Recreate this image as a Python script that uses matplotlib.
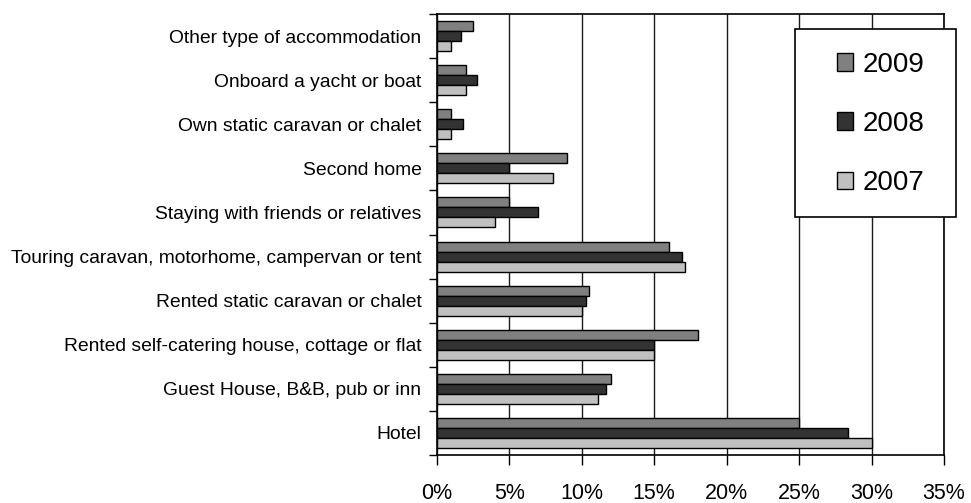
import matplotlib

matplotlib.use("Agg")

import matplotlib.pyplot as plt
import numpy as np
from matplotlib.patches import Patch, Rectangle
from matplotlib.ticker import FixedLocator, PercentFormatter

plt.rcParams["font.family"] = ["Liberation Sans", "DejaVu Sans"]

# categories listed top to bottom as shown
categories = [
    "Other type of accommodation",
    "Onboard a yacht or boat",
    "Own static caravan or chalet",
    "Second home",
    "Staying with friends or relatives",
    "Touring caravan, motorhome, campervan or tent",
    "Rented static caravan or chalet",
    "Rented self-catering house, cottage or flat",
    "Guest House, B&B, pub or inn",
    "Hotel",
]
share_2009 = [2.5, 2.0, 1.0, 9.0, 5.0, 16.0, 10.5, 18.0, 12.0, 25.0]
share_2008 = [1.7, 2.8, 1.8, 5.0, 7.0, 16.9, 10.3, 15.0, 11.7, 28.4]
share_2007 = [1.0, 2.0, 1.0, 8.0, 4.0, 17.1, 10.0, 15.0, 11.1, 30.0]
years = ["2009", "2008", "2007"]
colors = ["#808080", "#333333", "#c0c0c0"]

fig = plt.figure(figsize=(9.71, 5.03), dpi=100)
ax = fig.add_axes([0.4497, 0.0954, 0.5225, 0.8767])

n = len(categories)
pos = np.arange(n)[::-1]  # first category at top
h = 0.227
series = [share_2009, share_2008, share_2007]
for i, (vals, c) in enumerate(zip(series, colors)):
    ax.barh(pos + (1 - i) * h, vals, height=h, color=c, edgecolor="black",
            linewidth=1.0, zorder=3)

ax.set_xlim(0, 35)
ax.set_ylim(-0.5, n - 0.5)
ax.set_xticks(np.arange(0, 36, 5))
ax.xaxis.set_major_formatter(PercentFormatter(decimals=0))
ax.xaxis.grid(True, color="#1a1a1a", linewidth=1.0, zorder=0)
ax.set_axisbelow(True)

# labels at category centres, tick marks at the boundaries
ax.set_yticks(pos)
ax.set_yticklabels(categories)
ax.yaxis.set_minor_locator(FixedLocator(np.arange(-0.5, n, 1.0)))
ax.tick_params(axis="y", which="major", length=0, pad=11, labelsize=13.85)
ax.tick_params(axis="y", which="minor", length=6, width=1.0, direction="out")
ax.tick_params(axis="x", length=7, width=1.0, pad=13, labelsize=15.5)

for s in ax.spines.values():
    s.set_linewidth(1.2)

# legend box
ax.add_patch(Rectangle((0.706, 0.54), 0.318, 0.426, transform=ax.transAxes,
                       facecolor="white", edgecolor="black", linewidth=1.2,
                       zorder=5, clip_on=False))
handles = [Patch(facecolor=c, edgecolor="black", linewidth=1.0) for c in colors]
leg = ax.legend(handles, years, loc="center left", bbox_to_anchor=(0.789, 0.7506),
                frameon=False, fontsize=20, handlelength=0.58, handleheight=0.6,
                handletextpad=0.36, labelspacing=1.2, borderpad=0, borderaxespad=0)
leg.set_zorder(6)

fig.savefig("out.png", dpi=100)
